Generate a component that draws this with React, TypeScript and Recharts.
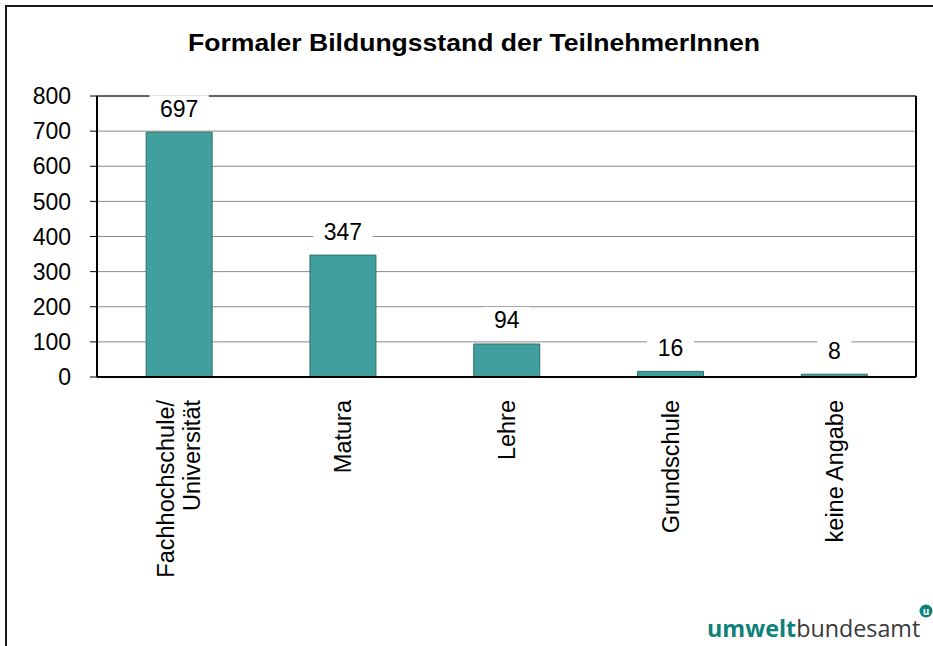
import React from "react";
import {
  BarChart,
  Bar,
  XAxis,
  YAxis,
  CartesianGrid,
  ReferenceLine,
  LabelList,
} from "recharts";

const title = "Formaler Bildungsstand der TeilnehmerInnen";
const categories = [
  "Fachhochschule/\nUniversität",
  "Matura",
  "Lehre",
  "Grundschule",
  "keine Angabe",
];
const values = [697, 347, 94, 16, 8];
const yTicks = [0, 100, 200, 300, 400, 500, 600, 700, 800];
const boundaryTicks = [0, 1, 2, 3, 4, 5];

const data = categories.map((c, i) => ({ name: c, value: values[i], pos: i + 0.5 }));

const FONT = "'Liberation Sans', Arial, sans-serif";
const BAR_FILL = "#41a09d";
const BAR_STROKE = "#2f6e6b";

const CatTick = (props: any) => {
  const { x, y, payload } = props;
  const lines = String(payload.value).split("\n");
  const lh = 26;
  return (
    <g transform={`translate(${x},${y}) rotate(-90)`}>
      <text textAnchor="end" fontSize={23.5} fontFamily={FONT} fill="#000">
        {lines.map((l, i) => (
          <tspan key={i} x={-21} y={(i - (lines.length - 1) / 2) * lh + 8.5}>
            {l}
          </tspan>
        ))}
      </text>
    </g>
  );
};

const ValueLabel = (props: any) => {
  const { x, y, width, value } = props;
  const cx = x + width / 2;
  const cy = y - 24;
  const w = String(value).length * 12.8 + 21;
  return (
    <g>
      <rect x={cx - w / 2} y={cy - 13} width={w} height={26} fill="#fff" />
      <text x={cx} y={cy + 8.5} textAnchor="middle" fontSize={23} fontFamily={FONT} fill="#000">
        {value}
      </text>
    </g>
  );
};

export default function App() {
  return (
    <div
      style={{
        position: "absolute",
        left: 0,
        top: 0,
        width: 933,
        height: 646,
        overflow: "hidden",
        background: "#fff",
      }}
    >
      <div
        style={{
          position: "absolute",
          left: 5,
          top: 5,
          width: 960,
          height: 700,
          borderLeft: "2px solid #1a1a1a",
          borderTop: "2px solid #1a1a1a",
        }}
      />
      <div style={{ position: "absolute", left: 0, top: 0 }}>
        <BarChart
          width={933}
          height={646}
          data={data}
          margin={{ top: 96, right: 17, left: 0, bottom: 0 }}
          barCategoryGap="30%"
        >
          <CartesianGrid vertical={false} stroke="#8a8a8a" strokeWidth={1} />
          <XAxis
            xAxisId="b"
            type="number"
            dataKey="pos"
            domain={[0, 5]}
            ticks={boundaryTicks}
            allowDataOverflow
            height={0}
            tick={false}
            axisLine={false}
            tickSize={7}
            tickLine={{ stroke: "#000", strokeWidth: 1 }}
          />
          <XAxis
            dataKey="name"
            height={269}
            interval={0}
            tickSize={0}
            tickLine={false}
            axisLine={{ stroke: "#000", strokeWidth: 2 }}
            tick={<CatTick />}
          />
          <YAxis
            width={97}
            domain={[0, 800]}
            ticks={yTicks}
            interval={0}
            tickSize={7}
            tickMargin={19}
            tickLine={{ stroke: "#000", strokeWidth: 1 }}
            axisLine={{ stroke: "#000", strokeWidth: 2 }}
            tick={{ fontSize: 23, fontFamily: FONT, fill: "#000" }}
          />
          <ReferenceLine y={800} stroke="#000" strokeWidth={1} />
          <ReferenceLine xAxisId="b" x={5} stroke="#000" strokeWidth={2} />
          <Bar
            dataKey="value"
            fill={BAR_FILL}
            stroke={BAR_STROKE}
            strokeWidth={1}
            isAnimationActive={false}
          >
            <LabelList dataKey="value" content={<ValueLabel />} />
          </Bar>
        </BarChart>
      </div>
      <svg
        width={933}
        height={646}
        style={{ position: "absolute", left: 0, top: 0, pointerEvents: "none" }}
      >
        <text
          x={474}
          y={51}
          textAnchor="middle"
          fontSize={24}
          fontWeight="bold"
          fontFamily={FONT}
          fill="#000"
          textLength={572}
          lengthAdjust="spacingAndGlyphs"
        >
          {title}
        </text>
        <text x={707} y={637} fontSize={23.3} fontFamily="'Open Sans', sans-serif">
          <tspan fontWeight={700} fill="#0e8279">umwelt</tspan>
          <tspan fill="#3a3a3a">bundesamt</tspan>
        </text>
        <circle cx={926} cy={611} r={6.5} fill="#0e8279" />
        <text x={926} y={615} textAnchor="middle" fontSize={10} fontWeight={700} fill="#fff" fontFamily="'Open Sans', sans-serif">
          u
        </text>
      </svg>
    </div>
  );
}
